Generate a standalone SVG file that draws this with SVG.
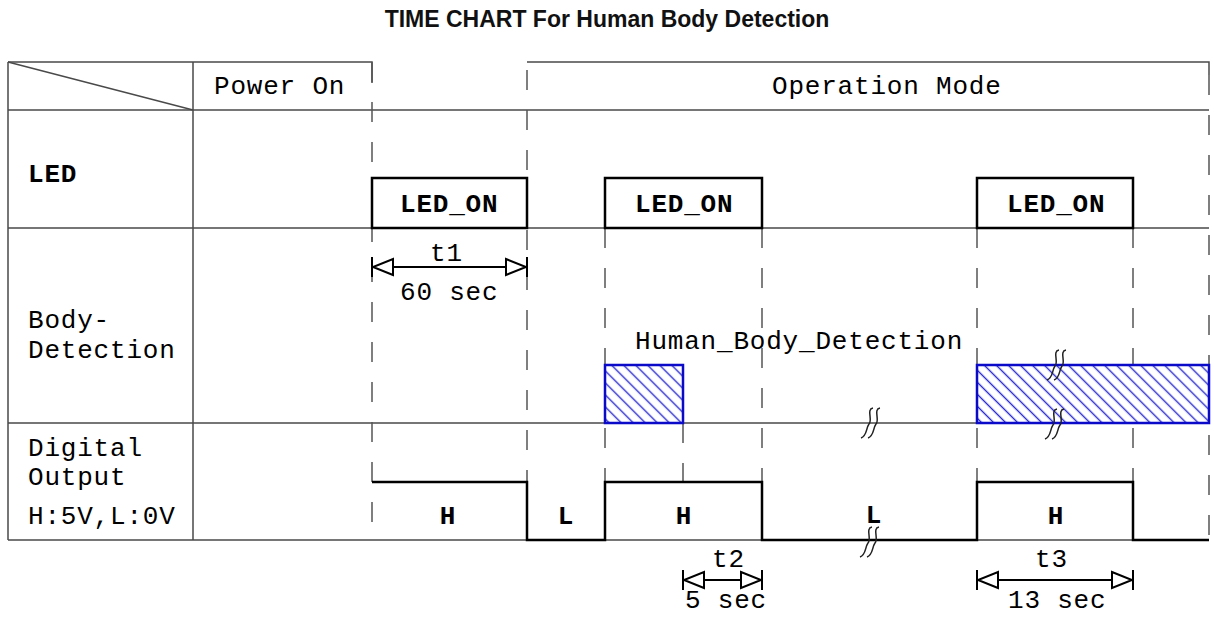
<svg xmlns="http://www.w3.org/2000/svg" xmlns:xlink="http://www.w3.org/1999/xlink" width="1214" height="617" viewBox="0 0 1214 617">
<style>
.grid{stroke:#4a4a4a;stroke-width:1.5;fill:none}
.dash{stroke:#555;stroke-width:1.5;stroke-dasharray:20 20;fill:none}
.box{stroke:#000;stroke-width:2.5;fill:none}
.wave{stroke:#000;stroke-width:2.5;fill:none}
.lbl{font-family:"Liberation Mono","DejaVu Sans Mono",monospace;font-size:26px;letter-spacing:0.8px;fill:#000}
.b{font-weight:bold;letter-spacing:0.8px}
.mid{text-anchor:middle}
.title{font-family:"Liberation Sans",Arial,sans-serif;font-size:23px;font-weight:bold;fill:#111;text-anchor:middle}
.arrow{stroke:#000;stroke-width:2;fill:none}
.tick{stroke:#000;stroke-width:2}
.det{fill:url(#hatch);stroke:#0a0ac8;stroke-width:2.5}
.brk path{fill:none;stroke:#222;stroke-width:1.5}
</style>
<defs>
<pattern id="hatch" patternUnits="userSpaceOnUse" width="8.5" height="8.5" patternTransform="rotate(45)">
<rect width="8.5" height="8.5" fill="#fff"/>
<line x1="0" y1="4.25" x2="8.5" y2="4.25" stroke="#2a2ad0" stroke-width="1.4"/>
</pattern>
<marker id="tri" viewBox="-22 -10 24 20" refX="0" refY="0" markerWidth="24" markerHeight="20" markerUnits="userSpaceOnUse" orient="auto-start-reverse">
<path d="M-20,-8 L0,0 L-20,8 Z" fill="#fff" stroke="#000" stroke-width="2"/>
</marker>
<g id="brk" class="brk">
<path d="M4,-15 C-3,-14 4,-3 0,1 C-3,5 -2,13 -8,15"/>
<path d="M11,-15 C4,-14 11,-3 7,1 C4,5 5,13 -1,15"/>
</g>
</defs>
<rect width="1214" height="617" fill="#fff"/>

<g id="title"><text class="title" x="607" y="27">TIME CHART For Human Body Detection</text></g>

<g id="table">
<path class="grid" d="M8,62 H372 V83 M527,62 H1209 V75"/>
<path class="grid" d="M8,62 V540 M193,62 V540 M8,62 L193,110"/>
<path class="grid" d="M8,110 H1209 M8,228 H1209 M8,423 H1209 M8,540 H1209"/>
</g>

<g id="guides">
<path class="dash" d="M372,62 V540"/>
<path class="dash" d="M527,70 V540"/>
<path class="dash" d="M605,228 V540"/>
<path class="dash" d="M762,228 V540"/>
<path class="dash" d="M977,228 V540"/>
<path class="dash" d="M1133,228 V540"/>
<path class="dash" d="M1209,75 V540"/>
<path class="dash" d="M683,423 V482"/>
</g>

<g id="header">
<text class="lbl" x="214" y="94">Power On</text>
<text class="lbl" x="772" y="94">Operation Mode</text>
</g>

<g id="row-labels">
<text class="lbl b" x="28" y="182">LED</text>
<text class="lbl" x="28" y="328">Body-</text>
<text class="lbl" x="28" y="358">Detection</text>
<text class="lbl" x="28" y="456">Digital</text>
<text class="lbl" x="28" y="485">Output</text>
<text class="lbl" x="28" y="524">H:5V,L:0V</text>
</g>

<g id="led1"><rect class="box" x="372" y="178" width="155" height="50"/><text class="lbl b" x="400" y="212">LED_ON</text></g>
<g id="led2"><rect class="box" x="605" y="178" width="157" height="50"/><text class="lbl b" x="635" y="212">LED_ON</text></g>
<g id="led3"><rect class="box" x="977" y="178" width="156" height="50"/><text class="lbl b" x="1007" y="212">LED_ON</text></g>

<g id="detection">
<rect class="det" x="605" y="365" width="78" height="58"/>
<rect class="det" x="977" y="365" width="232" height="58"/>
<text class="lbl" x="635" y="349">Human_Body_Detection</text>
</g>

<g id="output">
<path class="wave" d="M372,482 H527 V540 H605 V482 H762 V540 H977 V482 H1133 V540 H1209"/>
<text class="lbl b mid" x="448" y="524">H</text>
<text class="lbl b mid" x="566" y="524">L</text>
<text class="lbl b mid" x="684" y="524">H</text>
<text class="lbl b mid" x="874" y="523">L</text>
<text class="lbl b mid" x="1056" y="524">H</text>
</g>

<g id="breaks">
<use xlink:href="#brk" transform="translate(1055,365)"/>
<use xlink:href="#brk" transform="translate(1053,424)"/>
<use xlink:href="#brk" transform="translate(869,423)"/>
<use xlink:href="#brk" transform="translate(868,542)"/>
</g>

<g id="connectors">
<g id="t1">
<line class="tick" x1="372" y1="257" x2="372" y2="277"/>
<line class="tick" x1="527" y1="257" x2="527" y2="277"/>
<line class="arrow" x1="373" y1="267" x2="526" y2="267" marker-start="url(#tri)" marker-end="url(#tri)"/>
<text class="lbl" x="430" y="261">t1</text>
<text class="lbl" x="400" y="300">60 sec</text>
</g>
<g id="t2">
<line class="tick" x1="683" y1="570" x2="683" y2="590"/>
<line class="tick" x1="762" y1="570" x2="762" y2="590"/>
<line class="arrow" x1="684" y1="580" x2="761" y2="580" marker-start="url(#tri)" marker-end="url(#tri)"/>
<text class="lbl" x="712" y="567">t2</text>
<text class="lbl" x="685" y="608">5 sec</text>
</g>
<g id="t3">
<line class="tick" x1="977" y1="570" x2="977" y2="590"/>
<line class="tick" x1="1133" y1="570" x2="1133" y2="590"/>
<line class="arrow" x1="978" y1="580" x2="1132" y2="580" marker-start="url(#tri)" marker-end="url(#tri)"/>
<text class="lbl" x="1035" y="567">t3</text>
<text class="lbl" x="1008" y="608">13 sec</text>
</g>
</g>
</svg>
